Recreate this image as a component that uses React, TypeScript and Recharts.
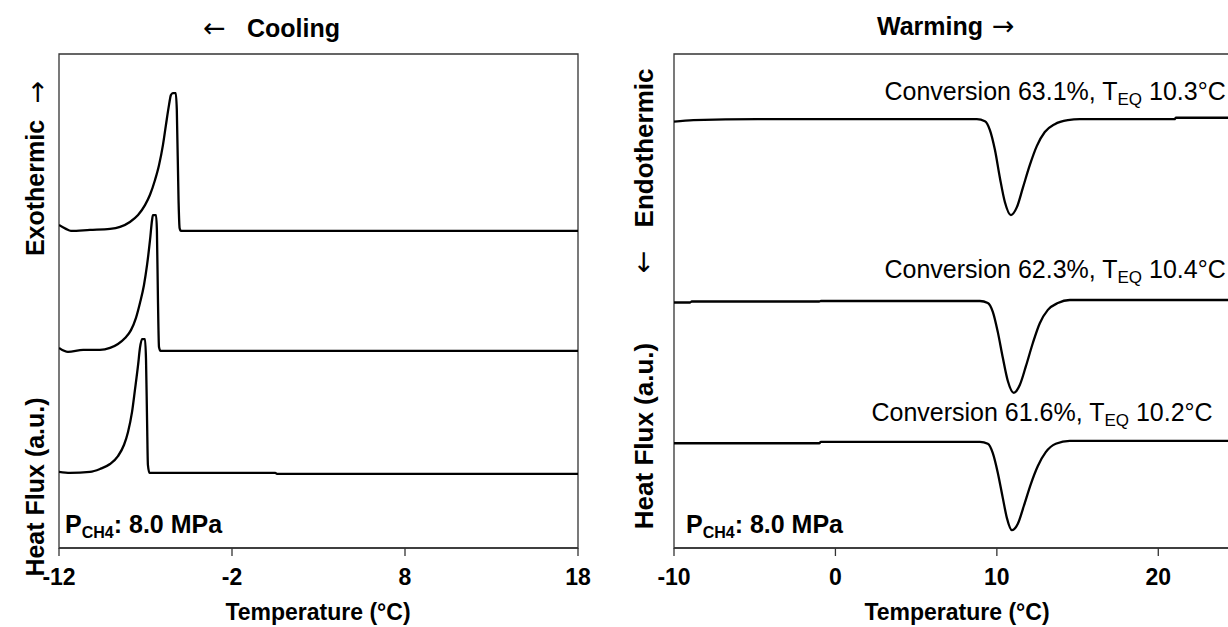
import { LineChart, Line, XAxis, YAxis, ReferenceArea, ReferenceDot } from "recharts";

// cooling runs (left panel): temperature °C and heat flux (a.u.)
const cool1T = [-12, -11.6, -11.31, -10.21, -9.05, -8.47, -7.9, -7.43, -7.03, -6.74, -6.45, -6.22, -5.99, -5.82, -5.64, -5.53, -5.42, -5.25, -5.19, -5.09, -5.03, -4.95, 18];
const cool1V = [65.4, 64.6, 64.2, 64.4, 64.6, 65.0, 66.0, 67.4, 69.4, 71.5, 74.5, 77.5, 81.6, 85.6, 89.7, 91.7, 92.1, 92.1, 88.7, 70.4, 64.8, 64.2, 64.2];
const cool2T = [-12, -11.48, -10.6, -9.63, -9.05, -8.59, -8.18, -7.84, -7.55, -7.32, -7.09, -6.91, -6.74, -6.62, -6.57, -6.39, -6.34, -6.28, -6.22, -6.13, 18];
const cool2V = [40.5, 39.7, 40.1, 40.1, 40.5, 41.3, 42.5, 44.1, 46.6, 49.6, 53.2, 57.3, 62.3, 66.4, 67.4, 67.4, 64.2, 50.2, 40.7, 39.9, 39.9];
const cool3T = [-12, -11.36, -10.21, -9.63, -9.05, -8.59, -8.24, -8.01, -7.78, -7.61, -7.43, -7.32, -7.2, -7.03, -6.97, -6.91, -6.86, -6.77, 0.5, 0.6, 18];
const cool3V = [15.4, 15.2, 15.4, 16.0, 17.0, 18.6, 20.9, 23.5, 27.5, 32.0, 37.0, 40.5, 42.3, 42.3, 38.1, 25.9, 16.8, 15.2, 15.2, 15.0, 15.0];

// warming runs (right panel)
const warm1T = [-10, -8.8, -4.8, 8.76, 9.26, 9.57, 9.88, 10.19, 10.5, 10.87, 11.24, 11.61, 12.04, 12.48, 12.97, 13.59, 14.4, 15.14, 21.0, 21.1, 25];
const warm1V = [86.3, 86.6, 86.8, 86.8, 86.4, 84.6, 80.6, 74.9, 70.0, 67.4, 69.0, 72.9, 77.5, 81.4, 84.2, 85.8, 86.6, 86.8, 86.8, 87.1, 87.1];
const warm2T = [-10, -9.0, -8.9, -1.0, -0.9, 8.95, 9.44, 9.75, 10.06, 10.37, 10.68, 11.05, 11.42, 11.8, 12.23, 12.66, 13.16, 13.78, 14.52, 25];
const warm2V = [49.7, 49.7, 49.9, 49.9, 50.0, 50.0, 49.6, 47.8, 43.7, 38.5, 33.8, 31.4, 33.0, 36.8, 41.5, 45.5, 48.2, 49.6, 50.2, 50.2];
const warm3T = [-10, -1.0, -0.9, 8.95, 9.44, 9.75, 10.06, 10.37, 10.62, 10.93, 11.3, 11.67, 12.11, 12.54, 13.03, 13.65, 14.52, 25];
const warm3V = [21.2, 21.2, 21.5, 21.5, 21.1, 19.2, 15.2, 10.1, 6.1, 3.6, 4.9, 8.5, 13.0, 16.6, 19.4, 21.1, 21.7, 21.7];

const coolTicks = [-12, -2, 8, 18];
const warmTicks = [-10, 0, 10, 20];

const conversions = ["63.1%", "62.3%", "61.6%"];
const teq = ["10.3°C", "10.4°C", "10.2°C"];
// annotation anchors (data coords: temperature, heat flux)
const annoT = [24.18, 24.18, 23.37];
const annoV = [90.7, 54.7, 25.7];

const zip = (t: number[], v: number[]) => t.map((x, i) => ({ t: x, v: v[i] }));

const FONT = "'Liberation Sans', Arial, sans-serif";
const ARROW_FONT = "'DejaVu Sans', sans-serif";
const tickStyle = { fontSize: 23, fontWeight: 700, fill: "#000" };

function PressureLabel(props: any) {
  const { x, y } = props.viewBox;
  return (
    <text x={x} y={y} fontSize={25} fontWeight={700} fill="#000">
      P<tspan fontSize={16} dy={5}>CH4</tspan>
      <tspan dy={-5}>: 8.0 MPa</tspan>
    </text>
  );
}

function ConversionLabel(props: any, i: number) {
  const { x, y } = props.viewBox;
  return (
    <text x={x} y={y} fontSize={25} fill="#000" textAnchor="end">
      Conversion {conversions[i]}, T<tspan fontSize={17} dy={5}>EQ</tspan>
      <tspan dy={-5}> {teq[i]}</tspan>
    </text>
  );
}

function Panel({ side }: { side: "cool" | "warm" }) {
  const cool = side === "cool";
  const series = cool
    ? [zip(cool1T, cool1V), zip(cool2T, cool2V), zip(cool3T, cool3V)]
    : [zip(warm1T, warm1V), zip(warm2T, warm2V), zip(warm3T, warm3V)];
  const domain = cool ? [-12, 18] : [-10, 25];
  return (
    <LineChart
      width={cool ? 600 : 700}
      height={627}
      margin={cool ? { top: 54, right: 22, bottom: 19, left: 59 } : { top: 54, right: 61, bottom: 19, left: 74 }}
    >
      <XAxis
        type="number"
        dataKey="t"
        domain={domain}
        ticks={cool ? coolTicks : warmTicks}
        allowDataOverflow
        height={60}
        tick={tickStyle}
        tickSize={8}
        tickMargin={13}
        stroke="#333"
        strokeWidth={1.3}
      />
      <YAxis hide domain={[0, 100]} />
      <ReferenceArea
        x1={domain[0]}
        x2={domain[1]}
        y1={0}
        y2={100}
        fill="none"
        stroke="#333"
        strokeWidth={1.3}
      />
      {series.map((d, i) => (
        <Line
          key={i}
          data={d}
          dataKey="v"
          type="monotone"
          stroke="#000"
          strokeWidth={2.3}
          dot={false}
          isAnimationActive={false}
        />
      ))}
      <ReferenceDot
        x={cool ? -11.65 : -9.26}
        y={3.1}
        r={0}
        fill="none"
        stroke="none"
        label={(p: any) => <PressureLabel {...p} />}
      />
      {!cool &&
        annoT.map((t, i) => (
          <ReferenceDot
            key={i}
            x={t}
            y={annoV[i]}
            r={0}
            fill="none"
            stroke="none"
            label={(p: any) => ConversionLabel(p, i)}
          />
        ))}
    </LineChart>
  );
}

export default function App() {
  return (
    <div
      style={{
        position: "fixed",
        left: 0,
        top: 0,
        width: 1228,
        height: 627,
        overflow: "hidden",
        background: "#fff",
        fontFamily: FONT,
      }}
    >
      <div style={{ position: "absolute", left: 0, top: 0 }}>
        <Panel side="cool" />
      </div>
      <div style={{ position: "absolute", left: 600, top: 0 }}>
        <Panel side="warm" />
      </div>
      <svg
        width={1228}
        height={627}
        style={{ position: "absolute", left: 0, top: 0, pointerEvents: "none", fontFamily: FONT }}
      >
        <text x={203} y={37} fontSize={27} fontFamily={ARROW_FONT} fill="#000">←</text>
        <text x={247} y={37} fontSize={25} fontWeight={700} fill="#000">Cooling</text>
        <text x={877} y={35} fontSize={25} fontWeight={700} fill="#000">Warming</text>
        <text x={992} y={35} fontSize={27} fontFamily={ARROW_FONT} fill="#000">→</text>

        <text x={318} y={620} fontSize={23} fontWeight={700} textAnchor="middle" fill="#000">Temperature (°C)</text>
        <text x={957} y={620} fontSize={23} fontWeight={700} textAnchor="middle" fill="#000">Temperature (°C)</text>

        <g transform="translate(44,487) rotate(-90)">
          <text textAnchor="middle" fontSize={25} fontWeight={700} fill="#000">Heat Flux (a.u.)</text>
        </g>
        <g transform="translate(44,188) rotate(-90)">
          <text textAnchor="middle" fontSize={25} fontWeight={700} fill="#000">Exothermic</text>
        </g>
        <g transform="translate(46,92) rotate(-90)">
          <text textAnchor="middle" fontSize={27} fontFamily={ARROW_FONT} fill="#000">→</text>
        </g>

        <g transform="translate(653,436) rotate(-90)">
          <text textAnchor="middle" fontSize={26} fontWeight={700} fill="#000">Heat Flux (a.u.)</text>
        </g>
        <g transform="translate(652,262) rotate(-90)">
          <text textAnchor="middle" fontSize={27} fontFamily={ARROW_FONT} fill="#000">←</text>
        </g>
        <g transform="translate(653,148) rotate(-90)">
          <text textAnchor="middle" fontSize={26} fontWeight={700} fill="#000">Endothermic</text>
        </g>
      </svg>
    </div>
  );
}
